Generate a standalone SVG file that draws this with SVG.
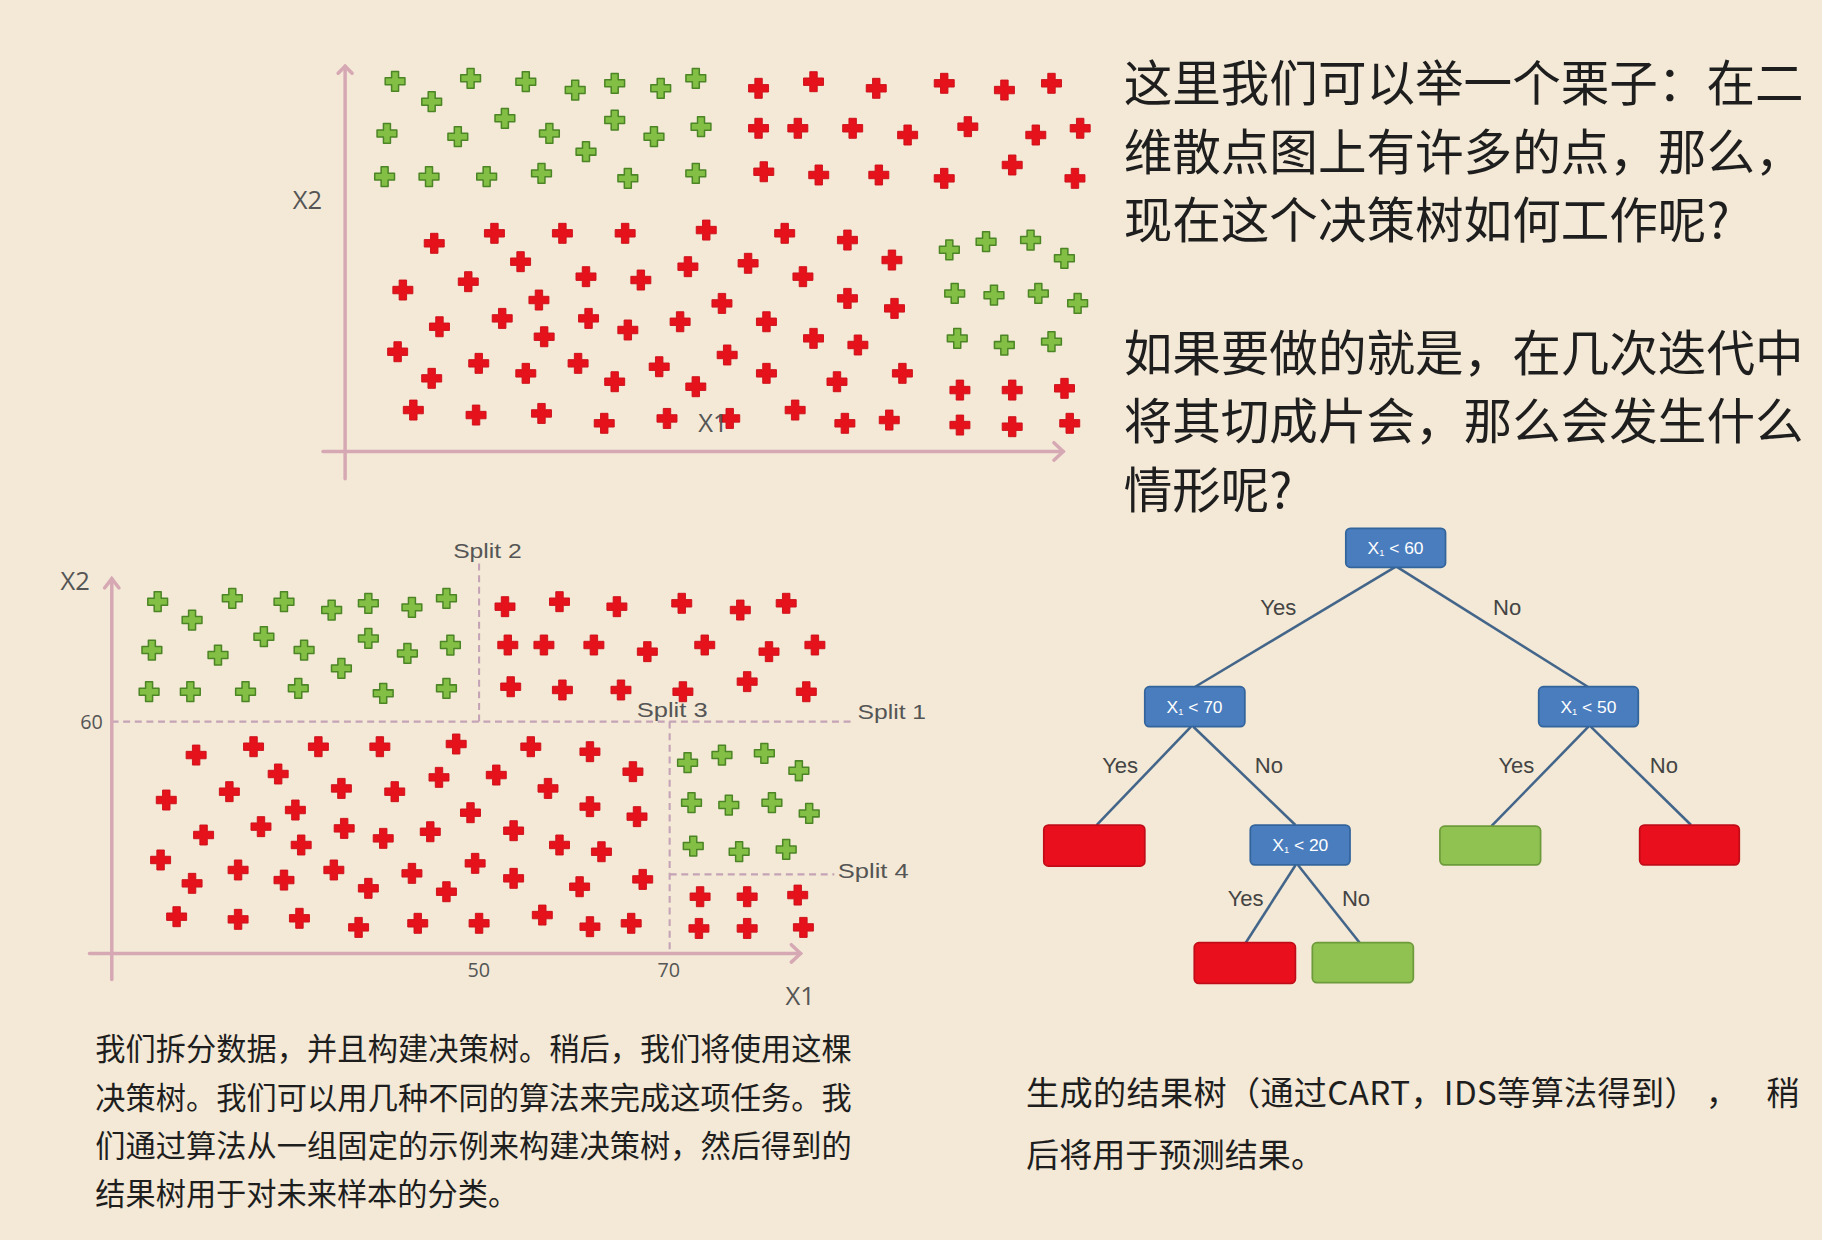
<svg xmlns="http://www.w3.org/2000/svg" xmlns:xlink="http://www.w3.org/1999/xlink" width="1822" height="1240" viewBox="0 0 1822 1240">
<style>
.cn{font-family:"Noto Sans CJK SC","Noto Sans",sans-serif;fill:#1e1e1e}
.lab{font-family:"Open Sans","Liberation Sans",sans-serif;fill:#555}
.sp{font-family:"Liberation Sans","Open Sans",sans-serif;fill:#555;font-size:17px}
.yn{font-family:"Liberation Sans","Noto Sans",sans-serif;fill:#444;font-size:19px;text-anchor:middle}
.bt{font-family:"Liberation Sans","Noto Sans",sans-serif;fill:#ffffff;font-size:15px;text-anchor:middle}
.ax{stroke:#d6a8b4;stroke-width:3;fill:none;stroke-linecap:round}
.dash{stroke:#c5a3b6;stroke-width:1.8;stroke-dasharray:6 4;fill:none}
.edge{stroke:#43658a;stroke-width:2.2;fill:none}
.box{fill:#4a7dbd;stroke:#33649b;stroke-width:1.5}
.lr{fill:#ea0f1d;stroke:#c10c18;stroke-width:1.5}
.lg{fill:#8fc250;stroke:#6d9a3a;stroke-width:1.5}
</style>
<defs>
<path id="g" d="M-3,-8.5h6v5.5h5.5v6h-5.5v5.5h-6v-5.5h-5.5v-6h5.5z" fill="#84bf45" stroke="#4c8526" stroke-width="1.3" stroke-linejoin="round"/>
<path id="r" d="M-3.2,-8.6h6.4v5.4h5.4v6.4h-5.4v5.4h-6.4v-5.4h-5.4v-6.4h5.4z" fill="#e5121c" stroke="#cc0f19" stroke-width="0.8" stroke-linejoin="round"/>
</defs>
<rect width="1822" height="1240" fill="#f3e9d6"/>
<g transform="scale(1.16199)">

<g id="plot-top">
<line class="ax" x1="297" y1="57" x2="297" y2="412"/>
<polyline class="ax" points="291,63 297,57 303,63"/>
<line class="ax" x1="278" y1="388.5" x2="915" y2="388.5"/>
<polyline class="ax" points="907,381 915,388.5 907,396"/>
<text class="lab" x="252" y="180" font-size="22">X2</text>
<g>
<use href="#g" x="340" y="70"/><use href="#g" x="371.5" y="87.5"/><use href="#g" x="405" y="67.4"/><use href="#g" x="452.5" y="70.3"/><use href="#g" x="495" y="77.5"/><use href="#g" x="529" y="71.7"/><use href="#g" x="568.6" y="76"/><use href="#g" x="598.8" y="67.4"/>
<use href="#g" x="333" y="114.8"/><use href="#g" x="394" y="117.6"/><use href="#g" x="434.5" y="101.8"/><use href="#g" x="472.8" y="114.8"/><use href="#g" x="529" y="103.3"/><use href="#g" x="562.8" y="117.6"/><use href="#g" x="603.3" y="109"/><use href="#g" x="504.3" y="130.5"/>
<use href="#g" x="331" y="152"/><use href="#g" x="369.2" y="152"/><use href="#g" x="418.8" y="152"/><use href="#g" x="466" y="149.2"/><use href="#g" x="540.3" y="153.5"/><use href="#g" x="598.8" y="149.2"/>
<use href="#g" x="817" y="215"/><use href="#g" x="848.6" y="208"/><use href="#g" x="886.9" y="206.6"/><use href="#g" x="916" y="222.3"/><use href="#g" x="821.6" y="252.5"/><use href="#g" x="855.4" y="254"/><use href="#g" x="893.6" y="252.5"/><use href="#g" x="927.4" y="261"/><use href="#g" x="823.8" y="291.2"/><use href="#g" x="864.3" y="297"/><use href="#g" x="904.9" y="294"/>
</g>
<g>
<use href="#r" x="652.8" y="76"/><use href="#r" x="700.1" y="70.3"/><use href="#r" x="754.1" y="76"/><use href="#r" x="812.6" y="71.7"/><use href="#r" x="864.4" y="77.5"/><use href="#r" x="904.9" y="71.7"/>
<use href="#r" x="652.8" y="110.4"/><use href="#r" x="686.6" y="110.4"/><use href="#r" x="733.8" y="110.4"/><use href="#r" x="781.1" y="116.2"/><use href="#r" x="832.9" y="109"/><use href="#r" x="891.4" y="116.2"/><use href="#r" x="929.6" y="110.4"/>
<use href="#r" x="657.3" y="147.8"/><use href="#r" x="704.6" y="150.6"/><use href="#r" x="756.3" y="150.6"/><use href="#r" x="812.6" y="153.5"/><use href="#r" x="871.1" y="142"/><use href="#r" x="925.1" y="153.5"/>
<use href="#r" x="373.7" y="209.4"/><use href="#r" x="425.5" y="200.8"/><use href="#r" x="484" y="200.8"/><use href="#r" x="538" y="200.8"/><use href="#r" x="607.8" y="198"/><use href="#r" x="675.3" y="200.8"/><use href="#r" x="729.3" y="206.6"/><use href="#r" x="767.6" y="223.8"/>
<use href="#r" x="346.7" y="249.6"/><use href="#r" x="403" y="242.4"/><use href="#r" x="448" y="225.2"/><use href="#r" x="504.3" y="238.1"/><use href="#r" x="551.5" y="241"/><use href="#r" x="592" y="229.5"/><use href="#r" x="643.8" y="226.6"/><use href="#r" x="691" y="238.1"/><use href="#r" x="729.3" y="256.8"/><use href="#r" x="769.8" y="265.4"/>
<use href="#r" x="378.2" y="281.2"/><use href="#r" x="432.2" y="274"/><use href="#r" x="463.8" y="258.2"/><use href="#r" x="468.3" y="289.8"/><use href="#r" x="506.5" y="274"/><use href="#r" x="540.3" y="284"/><use href="#r" x="585.3" y="276.9"/><use href="#r" x="621.3" y="261.1"/><use href="#r" x="659.6" y="276.9"/><use href="#r" x="700.1" y="291.2"/><use href="#r" x="738.3" y="296.9"/>
<use href="#r" x="342.2" y="302.7"/><use href="#r" x="371.5" y="325.6"/><use href="#r" x="412" y="312.7"/><use href="#r" x="452.5" y="321.3"/><use href="#r" x="497.5" y="312.7"/><use href="#r" x="529" y="328.5"/><use href="#r" x="567.3" y="315.6"/><use href="#r" x="598.8" y="332.8"/><use href="#r" x="625.8" y="305.5"/><use href="#r" x="659.6" y="321.3"/><use href="#r" x="720.3" y="328.5"/><use href="#r" x="776.6" y="321.3"/>
<use href="#r" x="355.7" y="352.9"/><use href="#r" x="409.7" y="357.2"/><use href="#r" x="466" y="355.8"/><use href="#r" x="520" y="364.3"/><use href="#r" x="574" y="360.1"/><use href="#r" x="628" y="360.1"/><use href="#r" x="684.3" y="352.9"/><use href="#r" x="727.1" y="364.3"/><use href="#r" x="765.3" y="361.5"/>
<use href="#r" x="826.1" y="335.7"/><use href="#r" x="871.1" y="335.7"/><use href="#r" x="916.1" y="334.2"/><use href="#r" x="826.1" y="365.8"/><use href="#r" x="871.1" y="367.2"/><use href="#r" x="920.6" y="364.3"/>
</g>
<text class="lab" x="601" y="372" font-size="22">X1</text>
</g>

<g id="plot-bottom">
<line class="dash" x1="96" y1="621" x2="736" y2="621"/>
<line class="dash" x1="412.3" y1="485" x2="412.3" y2="621"/>
<line class="dash" x1="576.3" y1="621" x2="576.3" y2="820"/>
<line class="dash" x1="576.3" y1="752.5" x2="718" y2="752.5"/>
<line class="ax" x1="96.2" y1="498" x2="96.2" y2="843"/>
<polyline class="ax" points="90,506 96.2,498 102.4,506"/>
<line class="ax" x1="77" y1="820.5" x2="689" y2="820.5"/>
<polyline class="ax" points="681,813 689,820.5 681,828"/>
<text class="lab" x="52" y="508" font-size="22">X2</text>
<text class="lab" x="676" y="865" font-size="22">X1</text>
<text class="lab" x="69" y="627" font-size="17">60</text>
<text class="lab" x="412" y="841" font-size="17" text-anchor="middle">50</text>
<text class="lab" x="575.5" y="841" font-size="17" text-anchor="middle">70</text>
<text class="sp" x="390" y="480" textLength="59" lengthAdjust="spacingAndGlyphs">Split 2</text>
<text class="sp" x="738" y="619" textLength="59" lengthAdjust="spacingAndGlyphs">Split 1</text>
<text class="sp" x="548" y="617" textLength="61" lengthAdjust="spacingAndGlyphs">Split 3</text>
<text class="sp" x="721" y="756" textLength="61" lengthAdjust="spacingAndGlyphs">Split 4</text>
<g>
<use href="#g" x="135.7" y="517.8"/><use href="#g" x="165.3" y="533.6"/><use href="#g" x="199.9" y="514.9"/><use href="#g" x="244.4" y="517.8"/><use href="#g" x="285.4" y="525"/><use href="#g" x="317" y="519.2"/><use href="#g" x="354.5" y="522.7"/><use href="#g" x="384.2" y="514.9"/>
<use href="#g" x="130.7" y="559.4"/><use href="#g" x="187.6" y="563.7"/><use href="#g" x="227.1" y="547.9"/><use href="#g" x="261.7" y="559.4"/><use href="#g" x="293.8" y="575.2"/><use href="#g" x="317" y="549.4"/><use href="#g" x="350.6" y="562.3"/><use href="#g" x="387.6" y="555.1"/>
<use href="#g" x="128.3" y="595.3"/><use href="#g" x="163.8" y="595.3"/><use href="#g" x="211.3" y="595.3"/><use href="#g" x="256.7" y="592.4"/><use href="#g" x="329.8" y="596.7"/><use href="#g" x="384.2" y="592.4"/>
<use href="#g" x="591.7" y="656.4"/><use href="#g" x="621.3" y="649.8"/><use href="#g" x="657.8" y="648.3"/><use href="#g" x="687.5" y="663.3"/><use href="#g" x="595.1" y="690.8"/><use href="#g" x="627.2" y="692.8"/><use href="#g" x="664.3" y="690.8"/><use href="#g" x="696.4" y="700"/><use href="#g" x="596.6" y="728.1"/><use href="#g" x="636.1" y="733"/><use href="#g" x="676.6" y="731"/>
</g>
<g>
<use href="#r" x="434.6" y="522.1"/><use href="#r" x="481.5" y="517.8"/><use href="#r" x="530.9" y="522.1"/><use href="#r" x="586.7" y="519.2"/><use href="#r" x="637.1" y="525"/><use href="#r" x="676.6" y="519.2"/>
<use href="#r" x="437" y="555.1"/><use href="#r" x="468.1" y="555.1"/><use href="#r" x="511.1" y="555.1"/><use href="#r" x="557.1" y="560.8"/><use href="#r" x="606.5" y="555.1"/><use href="#r" x="661.8" y="560.8"/><use href="#r" x="701.3" y="555.1"/>
<use href="#r" x="439.5" y="591"/><use href="#r" x="484" y="593.8"/><use href="#r" x="534.4" y="593.8"/><use href="#r" x="587.7" y="595.3"/><use href="#r" x="643" y="586.6"/><use href="#r" x="693.9" y="595.3"/>
<use href="#r" x="168.8" y="649.8"/><use href="#r" x="218.2" y="642.6"/><use href="#r" x="274" y="642.6"/><use href="#r" x="326.9" y="642.6"/><use href="#r" x="392.6" y="640.3"/><use href="#r" x="456.8" y="642.6"/><use href="#r" x="507.7" y="646.9"/><use href="#r" x="544.7" y="664.1"/>
<use href="#r" x="143.1" y="688.5"/><use href="#r" x="197.4" y="681.3"/><use href="#r" x="239.4" y="666.1"/><use href="#r" x="293.8" y="678.5"/><use href="#r" x="339.7" y="681.3"/><use href="#r" x="377.8" y="669"/><use href="#r" x="427.1" y="667"/><use href="#r" x="471.6" y="678.5"/><use href="#r" x="507.7" y="694.2"/><use href="#r" x="548.2" y="702.8"/>
<use href="#r" x="175.2" y="718.6"/><use href="#r" x="224.6" y="711.4"/><use href="#r" x="254.2" y="697.1"/><use href="#r" x="259.2" y="727.2"/><use href="#r" x="296.2" y="712.9"/><use href="#r" x="329.8" y="721.5"/><use href="#r" x="370.3" y="715.8"/><use href="#r" x="404.9" y="699.4"/><use href="#r" x="442" y="714.9"/><use href="#r" x="481.5" y="727.2"/><use href="#r" x="517.6" y="733"/>
<use href="#r" x="138.2" y="740.1"/><use href="#r" x="165.3" y="760.2"/><use href="#r" x="204.9" y="748.7"/><use href="#r" x="244.4" y="757.4"/><use href="#r" x="287.3" y="748.7"/><use href="#r" x="317" y="764.5"/><use href="#r" x="354.5" y="751.6"/><use href="#r" x="384.2" y="767.4"/><use href="#r" x="408.9" y="743"/><use href="#r" x="442" y="755.9"/><use href="#r" x="498.8" y="763.1"/><use href="#r" x="553.1" y="756.8"/>
<use href="#r" x="152" y="788.9"/><use href="#r" x="204.9" y="791.2"/><use href="#r" x="257.7" y="790.3"/><use href="#r" x="308.6" y="798.1"/><use href="#r" x="359.5" y="794.6"/><use href="#r" x="412.3" y="794.6"/><use href="#r" x="466.7" y="787.5"/><use href="#r" x="507.7" y="797.5"/><use href="#r" x="543.2" y="794.6"/>
<use href="#r" x="602.5" y="771.7"/><use href="#r" x="643" y="771.7"/><use href="#r" x="686.5" y="770.3"/><use href="#r" x="601.5" y="799"/><use href="#r" x="643" y="799"/><use href="#r" x="691.4" y="798.1"/>
</g>
</g>

<g id="connectors">
<line class="edge" x1="1200.5" y1="488" x2="1028.6" y2="591"/>
<line class="edge" x1="1202.5" y1="488" x2="1366.4" y2="591"/>
<line class="edge" x1="1025" y1="625.4" x2="943.7" y2="710"/>
<line class="edge" x1="1027" y1="625.4" x2="1114.8" y2="710"/>
<line class="edge" x1="1367" y1="625.4" x2="1283.5" y2="711"/>
<line class="edge" x1="1369" y1="625.4" x2="1455.3" y2="710"/>
<line class="edge" x1="1115" y1="744.4" x2="1072.1" y2="811.3"/>
<line class="edge" x1="1117" y1="744.4" x2="1170.1" y2="811.3"/>
<text class="yn" x="1100" y="529">Yes</text>
<text class="yn" x="1297" y="529">No</text>
<text class="yn" x="964" y="665">Yes</text>
<text class="yn" x="1092" y="665">No</text>
<text class="yn" x="1305" y="665">Yes</text>
<text class="yn" x="1432" y="665">No</text>
<text class="yn" x="1072" y="780">Yes</text>
<text class="yn" x="1167" y="780">No</text>
</g>

<g id="node-root"><rect class="box" x="1158.2" y="454.7" width="85.8" height="33.5" rx="4"/><text class="bt" x="1201" y="476.5">X<tspan font-size="8" dy="2">1</tspan><tspan dy="-2"> &lt; 60</tspan></text></g>
<g id="node-x70"><rect class="box" x="985.2" y="591" width="86.1" height="34.4" rx="4"/><text class="bt" x="1028" y="613.5">X<tspan font-size="8" dy="2">1</tspan><tspan dy="-2"> &lt; 70</tspan></text></g>
<g id="node-x50"><rect class="box" x="1324.2" y="591" width="85.7" height="34.4" rx="4"/><text class="bt" x="1367" y="613.5">X<tspan font-size="8" dy="2">1</tspan><tspan dy="-2"> &lt; 50</tspan></text></g>
<g id="node-x20"><rect class="box" x="1076" y="710" width="85.8" height="34.4" rx="4"/><text class="bt" x="1119" y="732.5">X<tspan font-size="8" dy="2">1</tspan><tspan dy="-2"> &lt; 20</tspan></text></g>
<g id="leaf-red-1"><rect class="lr" x="898.3" y="710" width="86.9" height="35.3" rx="4"/></g>
<g id="leaf-green-1"><rect class="lg" x="1239.2" y="711" width="86.6" height="33.4" rx="4"/></g>
<g id="leaf-red-2"><rect class="lr" x="1411.1" y="710" width="85.7" height="34.4" rx="4"/></g>
<g id="leaf-red-3"><rect class="lr" x="1027.8" y="811.3" width="87" height="35" rx="4"/></g>
<g id="leaf-green-2"><rect class="lg" x="1129.4" y="811.3" width="86.9" height="34.4" rx="4"/></g>

<g id="text-right">
<text class="cn" x="967" y="87" font-size="41.8">这里我们可以举一个栗子：在二</text>
<text class="cn" x="967" y="146" font-size="41.8">维散点图上有许多的点，那么，</text>
<text class="cn" x="967" y="205" font-size="41.8">现在这个决策树如何工作呢?</text>
<text class="cn" x="967" y="319" font-size="41.8">如果要做的就是，在几次迭代中</text>
<text class="cn" x="967" y="378" font-size="41.8">将其切成片会，那么会发生什么</text>
<text class="cn" x="967" y="437" font-size="41.8">情形呢?</text>
</g>
<g id="text-bottom-left">
<text class="cn" x="82" y="912.5" font-size="26" textLength="651">我们拆分数据，并且构建决策树。稍后，我们将使用这棵</text>
<text class="cn" x="82" y="954" font-size="26" textLength="651">决策树。我们可以用几种不同的算法来完成这项任务。我</text>
<text class="cn" x="82" y="995.5" font-size="26" textLength="651">们通过算法从一组固定的示例来构建决策树，然后得到的</text>
<text class="cn" x="82" y="1037" font-size="26">结果树用于对未来样本的分类。</text>
</g>
<g id="text-bottom-right">
<text class="cn" x="883" y="951" font-size="28.5" textLength="578">生成的结果树（通过CART，IDS等算法得到）</text>
<text class="cn" x="1468" y="951" font-size="28.5">，</text>
<text class="cn" x="1520" y="951" font-size="28.5">稍</text>
<text class="cn" x="883" y="1004" font-size="28.5">后将用于预测结果。</text>
</g>
</g>
</svg>
